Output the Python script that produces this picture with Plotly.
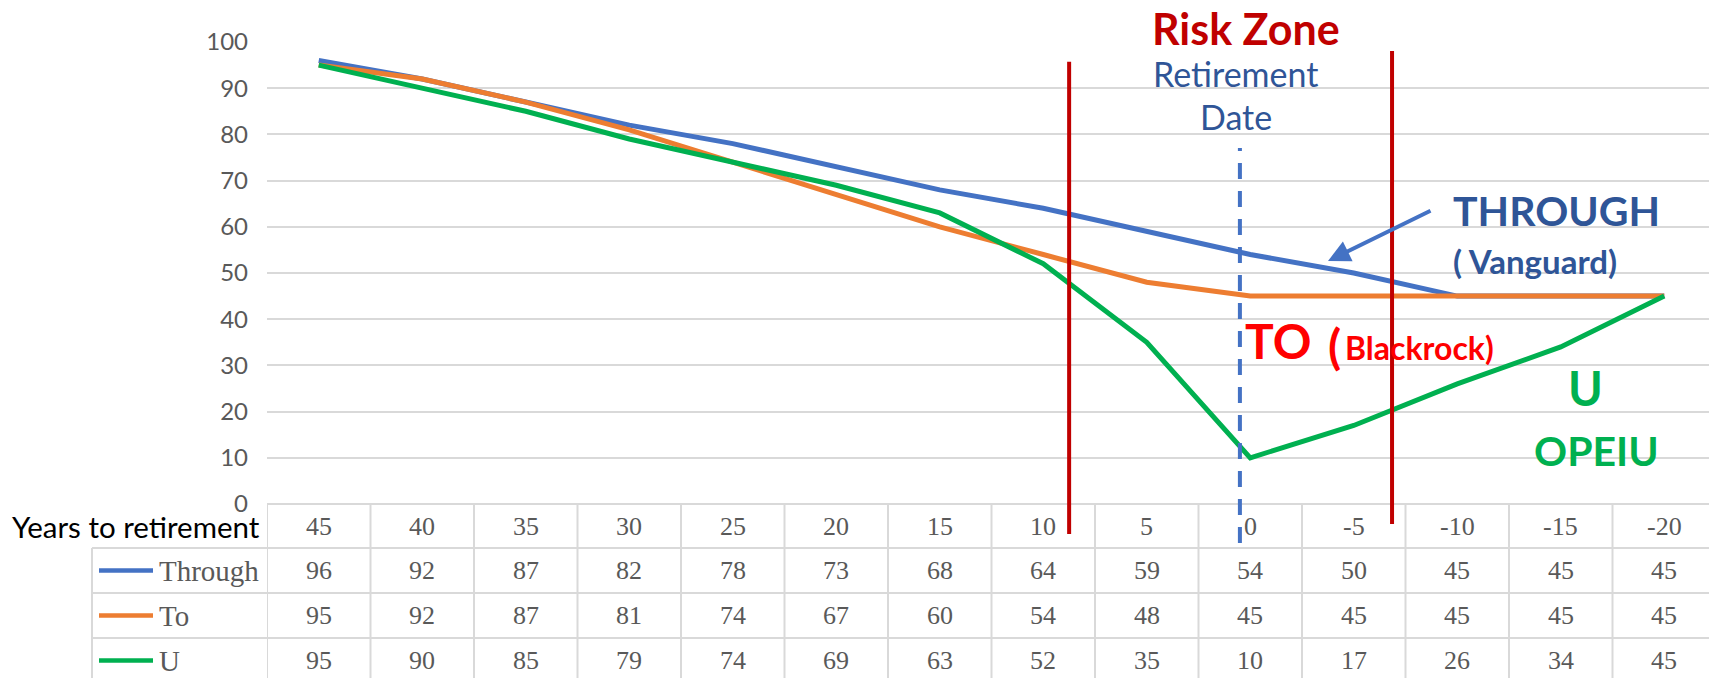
import plotly.graph_objects as go

# ---------------- data ----------------
years = [45, 40, 35, 30, 25, 20, 15, 10, 5, 0, -5, -10, -15, -20]
through_vals = [96, 92, 87, 82, 78, 73, 68, 64, 59, 54, 50, 45, 45, 45]
to_vals = [95, 92, 87, 81, 74, 67, 60, 54, 48, 45, 45, 45, 45, 45]
u_vals = [95, 90, 85, 79, 74, 69, 63, 52, 35, 10, 17, 26, 34, 45]
series_names = ["Through", "To", "U"]
series_colors = ["#4472C4", "#ED7D31", "#00B050"]
y_ticks = list(range(0, 101, 10))
row_header = "Years to retirement"
risk_zone_bounds = [7.25, 10.37]   # in category units
retirement_x = 8.9                 # in category units

# ---------------- layout constants ----------------
OFF = 8                      # page body margin
SCR_W, SCR_H = 1717, 678
W, H = SCR_W - OFF, SCR_H - OFF
L, R, T, B = 267 - OFF, 1, 42 - OFF, 174
plot_w = W - L - R
plot_h = H - T - B


def px(p):
    """screen x pixel -> paper x"""
    return (p - OFF - L) / plot_w


def py(p):
    """screen y pixel -> paper y"""
    return (H - B - (p - OFF)) / plot_h


SANS = "Lato"
SERIF = "Liberation Serif"
GRID = "#D9D9D9"
TXT = "#595959"
DARKRED = "#C00000"
DARKBLUE = "#2F5597"

idx = list(range(len(years)))
series_vals = [through_vals, to_vals, u_vals]

fig = go.Figure()
for name, vals, col in zip(series_names, series_vals, series_colors):
    fig.add_trace(go.Scatter(x=idx, y=vals, mode="lines", name=name,
                             line=dict(color=col, width=5),
                             showlegend=False, cliponaxis=False, hoverinfo="skip"))

shapes = []
annotations = []

# ----- table borders -----
row_edges = [504, 548, 593, 638]
row_centers = [526, 570.5, 615.5, 660.5]
shapes.append(dict(type="line", xref="paper", yref="paper", x0=0, x1=1,
                   y0=py(504), y1=py(504), line=dict(color=GRID, width=2), layer="below"))
for e in row_edges[1:]:
    shapes.append(dict(type="line", xref="paper", yref="paper", x0=px(92), x1=1,
                       y0=py(e), y1=py(e), line=dict(color=GRID, width=2), layer="below"))
for k in range(len(years) + 1):
    shapes.append(dict(type="line", xref="x", yref="paper", x0=k - 0.5, x1=k - 0.5,
                       y0=py(504), y1=py(SCR_H + 2), line=dict(color=GRID, width=2), layer="below"))
shapes.append(dict(type="line", xref="paper", yref="paper", x0=px(92), x1=px(92),
                   y0=py(548), y1=py(SCR_H + 2), line=dict(color=GRID, width=2), layer="below"))

# header row
annotations.append(dict(xref="paper", yref="paper", x=px(262), y=py(row_centers[0]),
                        text=row_header, showarrow=False, xanchor="right", yanchor="middle",
                        font=dict(family=SANS, size=29.5, color="#000000")))
for i, yv in enumerate(years):
    annotations.append(dict(xref="x", yref="paper", x=i, y=py(row_centers[0]),
                            text=str(yv), showarrow=False, xanchor="center", yanchor="middle",
                            font=dict(family=SERIF, size=26, color=TXT)))
# series rows
for r, (name, vals, col) in enumerate(zip(series_names, series_vals, series_colors)):
    yc = py(row_centers[r + 1])
    shapes.append(dict(type="line", xref="paper", yref="paper", x0=px(99), x1=px(153),
                       y0=yc, y1=yc, line=dict(color=col, width=4.5)))
    annotations.append(dict(xref="paper", yref="paper", x=px(157), y=yc, text=name,
                            showarrow=False, xanchor="left", yanchor="middle",
                            font=dict(family=SERIF, size=29, color=TXT)))
    for i, v in enumerate(vals):
        annotations.append(dict(xref="x", yref="paper", x=i, y=yc, text=str(v),
                                showarrow=False, xanchor="center", yanchor="middle",
                                font=dict(family=SERIF, size=26, color=TXT)))

# ----- risk zone lines -----
shapes.append(dict(type="line", xref="x", yref="paper", x0=risk_zone_bounds[0], x1=risk_zone_bounds[0],
                   y0=py(534), y1=py(61.7), line=dict(color=DARKRED, width=4)))
shapes.append(dict(type="line", xref="x", yref="paper", x0=risk_zone_bounds[1], x1=risk_zone_bounds[1],
                   y0=py(524), y1=py(51), line=dict(color=DARKRED, width=4)))
shapes.append(dict(type="line", xref="x", yref="paper", x0=retirement_x, x1=retirement_x,
                   y0=py(543), y1=py(148), line=dict(color="#4472C4", width=4, dash="16px,12px")))


# ----- text annotations -----
def txt(text, xp, yp, size, color, bold=False, xanchor="center"):
    t = f"<b>{text}</b>" if bold else text
    annotations.append(dict(xref="paper", yref="paper", x=px(xp), y=py(yp), text=t,
                            showarrow=False, xanchor=xanchor, yanchor="middle",
                            font=dict(family=SANS, size=size, color=color)))


txt("Risk Zone", 1246, 28, 43, DARKRED, bold=True)
txt("Retirement", 1235, 73, 34, DARKBLUE)
txt("Date", 1236, 116, 34, DARKBLUE)
txt("THROUGH", 1451, 210, 41, DARKBLUE, bold=True, xanchor="left")
txt("( Vanguard)", 1451, 261, 33, DARKBLUE, bold=True, xanchor="left")
txt("TO", 1243, 340, 48, "#FF0000", bold=True, xanchor="left")
txt("(", 1326, 345, 48, "#FF0000", bold=True, xanchor="left")
txt("Blackrock)", 1343, 347, 32, "#FF0000", bold=True, xanchor="left")
txt("U", 1585, 388, 47, "#00B050", bold=True)
txt("OPEIU", 1596, 450, 41, "#00B050", bold=True)

# arrow
annotations.append(dict(xref="paper", yref="paper", x=px(1328), y=py(261), ax=104, ay=-51,
                        axref="pixel", ayref="pixel", text="", showarrow=True,
                        arrowhead=2, arrowsize=1.1, arrowwidth=4, arrowcolor="#4472C4"))

fig.update_layout(
    width=W, height=H,
    margin=dict(l=L, r=R, t=T, b=B),
    plot_bgcolor="white", paper_bgcolor="white",
    shapes=shapes, annotations=annotations,
    xaxis=dict(range=[-0.5, len(years) - 0.5], showgrid=False, showticklabels=False,
               zeroline=False, showline=False, fixedrange=True),
    yaxis=dict(range=[0, 100], tickvals=y_ticks, showgrid=True, gridcolor=GRID, gridwidth=2,
               zeroline=False, showline=False, ticks="", ticklabelstandoff=18,
               tickfont=dict(family=SANS, size=24, color=TXT)),
)

fig.write_html("out.html")
